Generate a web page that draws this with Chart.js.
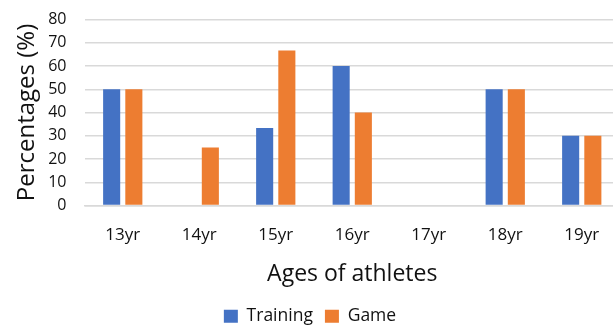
<!DOCTYPE html>
<html>
<head>
<meta charset="utf-8">
<script src="https://cdn.jsdelivr.net/npm/chart.js@4"></script>
<style>
  html, body { margin: 0; padding: 0; background: #fff; overflow: hidden; }
  #wrap { width: 620px; height: 325px; }
</style>
</head>
<body>
<div id="wrap"><canvas id="ageChart" width="620" height="325"></canvas></div>
<script>
  // Ages and percentages
  const ages = ["13yr", "14yr", "15yr", "16yr", "17yr", "18yr", "19yr"];
  const training = [50, 0, 33.3, 60, 0, 50, 30];
  const game = [50, 25, 66.7, 40, 0, 50, 30];
  const yTicks = { min: 0, max: 80, step: 10 };

  const font = "'Open Sans', 'Liberation Sans', sans-serif";
  const textColor = "#111";

  const ctx = document.getElementById("ageChart").getContext("2d");

  new Chart(ctx, {
    type: "bar",
    data: {
      labels: ages,
      datasets: [
        {
          label: "Training",
          data: training,
          backgroundColor: "#4472c4",
          categoryPercentage: 0.58,
          barPercentage: 0.77,
        },
        {
          label: "Game",
          data: game,
          backgroundColor: "#ed7d31",
          categoryPercentage: 0.58,
          barPercentage: 0.77,
        },
      ],
    },
    options: {
      responsive: false,
      animation: false,
      // negative bottom padding pushes the legend down to the canvas edge
      layout: { padding: { top: 19.5, left: 0, right: 0, bottom: -10 } },
      plugins: {
        legend: {
          position: "bottom",
          labels: {
            boxWidth: 14,
            boxHeight: 13,
            padding: 12,
            color: textColor,
            font: { family: font, size: 17.5 },
          },
        },
        tooltip: { enabled: false },
      },
      scales: {
        x: {
          grid: { display: false, drawTicks: false },
          border: { display: true, color: "#d9d9d9", width: 1.5 },
          ticks: {
            padding: 19,
            color: textColor,
            font: { family: font, size: 17 },
          },
          title: {
            display: true,
            text: "Ages of athletes",
            color: textColor,
            font: { family: font, size: 23 },
            padding: { top: 10, bottom: 7 },
          },
          afterFit: function (scale) {
            scale.height = 90;
          },
        },
        y: {
          min: yTicks.min,
          max: yTicks.max,
          grid: { color: "#d9d9d9", lineWidth: 1.5, drawTicks: false },
          border: { display: false },
          ticks: {
            stepSize: yTicks.step,
            autoSkip: false,
            padding: 18,
            color: textColor,
            font: { family: font, size: 16 },
          },
          title: {
            display: true,
            text: "Percentages (%)",
            color: textColor,
            font: { family: font, size: 24 },
            padding: { top: 13, bottom: 4 },
          },
          afterFit: function (scale) {
            scale.width = 84.5;
            scale.paddingTop = 0;
            scale.paddingBottom = 0;
          },
        },
      },
    },
  });
</script>
</body>
</html>
